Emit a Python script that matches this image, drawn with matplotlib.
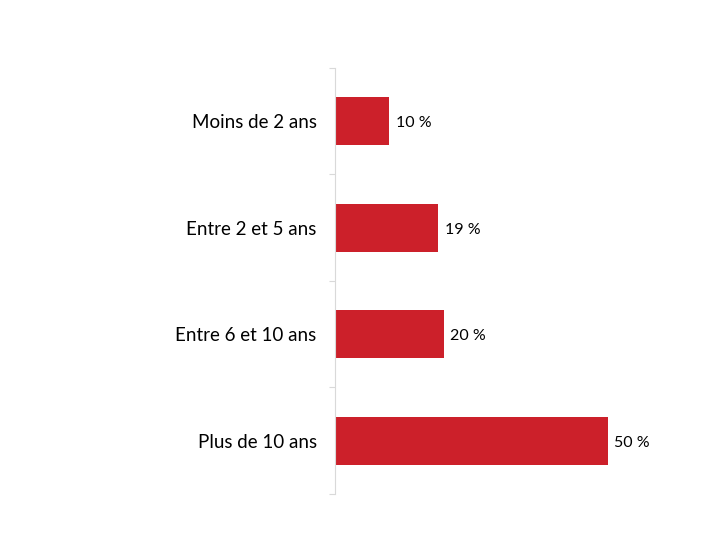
import matplotlib.pyplot as plt

# catégories et valeurs (en %)
categories = ['Moins de 2 ans', 'Entre 2 et 5 ans', 'Entre 6 et 10 ans', 'Plus de 10 ans']
valeurs = [10, 19, 20, 50]

plt.rcParams['font.family'] = ['Lato', 'DejaVu Sans']

fig = plt.figure(figsize=(7.2, 5.4), dpi=100)
ax = fig.add_axes([0.4649, 0.0852, 0.455, 0.789])

y = list(range(len(categories)))
ax.barh(y, valeurs, height=0.45, color='#CC202A')

for yi, v in zip(y, valeurs):
    ax.text(v + 1.2, yi + 0.02, f'{v} %', va='center', ha='left', fontsize=11.5, color='black')

ax.set_ylim(len(categories) - 0.5, -0.5)
ax.set_xlim(0, 60)
ax.set_yticks([i - 0.5 for i in range(len(categories) + 1)], minor=False)
ax.set_yticklabels([])
ax.set_yticks(y, minor=True)
ax.set_yticklabels(categories, minor=True, fontsize=13.5)
ax.tick_params(axis='y', which='minor', length=0, pad=13)
ax.tick_params(axis='y', which='major', length=4, color='#D9D9D9')
ax.set_xticks([])

for s in ['top', 'right', 'bottom']:
    ax.spines[s].set_visible(False)
ax.spines['left'].set_color('#D9D9D9')

fig.savefig('out.png', dpi=100)
